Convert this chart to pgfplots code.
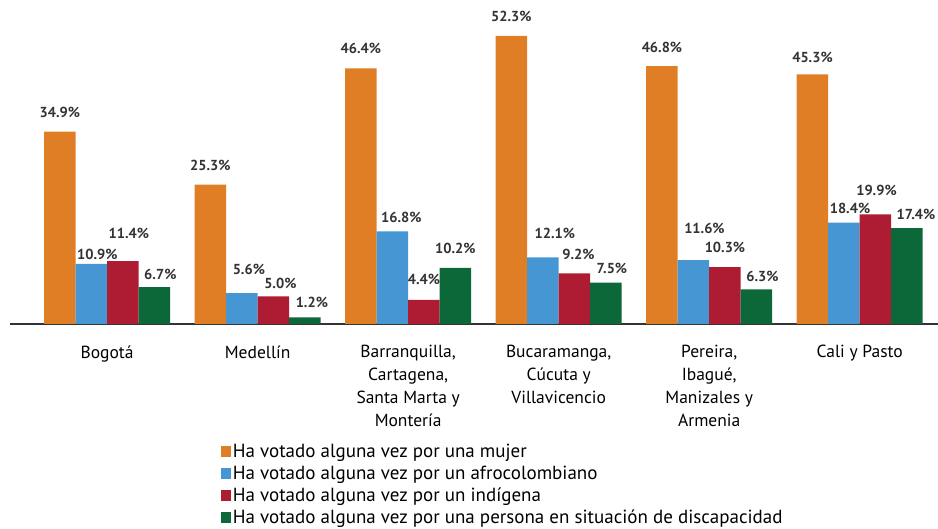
\documentclass[border=0pt]{standalone}
\usepackage{pgfplots}
\usepackage{pgfplotstable}
\pgfplotsset{compat=1.18}
\usepackage{fontspec}
\setmainfont{PT Sans}
\definecolor{cor}{HTML}{E07E25}
\definecolor{cbl}{HTML}{4596D2}
\definecolor{cre}{HTML}{AE1C34}
\definecolor{cgr}{HTML}{0C6838}
\definecolor{axc}{HTML}{333333}
\pgfplotstableread{
x y dx dy
0 34.9 0 19
1 25.3 0 19
2 46.4 0 20
3 52.3 0 19
4 46.8 0 19
5 45.3 0 17
}\tor
\pgfplotstableread{
x y dx dy
0 10.9 6 10
1 5.6 7 24
2 16.8 9 14
3 12.1 12 24
4 11.6 11 32
5 18.4 6 14
}\tbl
\pgfplotstableread{
x y dx dy
0 11.4 6 28
1 5.0 7 13
2 4.4 0 20
3 9.2 4 19
4 10.3 0 20
5 19.9 1 24
}\tre
\pgfplotstableread{
x y dx dy
0 6.7 6 13
1 1.2 7 15
2 10.2 0 19
3 7.5 6 14
4 6.3 6 13
5 17.4 9 14
}\tgr
\begin{document}
\begin{tikzpicture}
\useasboundingbox (-10pt,-205pt) rectangle (928pt,324pt);
\begin{axis}[
  at={(0,0)}, anchor=south west,
  scale only axis, width=928pt, height=324pt,
  xmin=-0.645, xmax=5.52, ymin=0, ymax=58.8,
  ybar=0pt, bar width=31.5pt,
  axis y line=none, axis x line*=bottom,
  x axis line style={draw=axc, line width=2pt},
  xtick={0,1,2,3,4,5}, major tick length=0pt,
  xticklabels={Bogotá,Medellín,{Barranquilla,\\Cartagena,\\Santa Marta y\\Montería},{Bucaramanga,\\Cúcuta y\\Villavicencio},{Pereira,\\Ibagué,\\Manizales y\\Armenia},Cali y Pasto},
  xticklabel style={align=center, anchor=north, yshift=-18pt, font=\fontsize{17.5}{23}\selectfont, text=black},
  clip=false,
  visualization depends on={\thisrow{dx}\as\dx},
  visualization depends on={\thisrow{dy}\as\dy},
  nodes near coords={\pgfmathprintnumber[fixed,fixed zerofill,precision=1,assume math mode=true]{\pgfplotspointmeta}\%},
  nodes near coords style={font=\fontsize{14.5}{16}\selectfont\bfseries, text=axc, anchor=center, xshift=\dx pt, yshift=\dy pt},
  every axis plot/.append style={draw=none},
  legend style={at={(0.227,-0.364)}, anchor=north west, draw=none, fill=none,
    font=\fontsize{19}{20}\selectfont, row sep=3pt, inner sep=0pt,
    cells={anchor=west}},
  legend image code/.code={\fill[#1] (0pt,-5.5pt) rectangle (10pt,5.5pt);},
]
\addplot[fill=cor] table[x=x,y=y] {\tor};
\addplot[fill=cbl] table[x=x,y=y] {\tbl};
\addplot[fill=cre] table[x=x,y=y] {\tre};
\addplot[fill=cgr] table[x=x,y=y] {\tgr};
\legend{Ha votado alguna vez por una mujer,Ha votado alguna vez por un afrocolombiano,Ha votado alguna vez por un indígena,Ha votado alguna vez por una persona en situación de discapacidad}
\end{axis}
\end{tikzpicture}
\end{document}
